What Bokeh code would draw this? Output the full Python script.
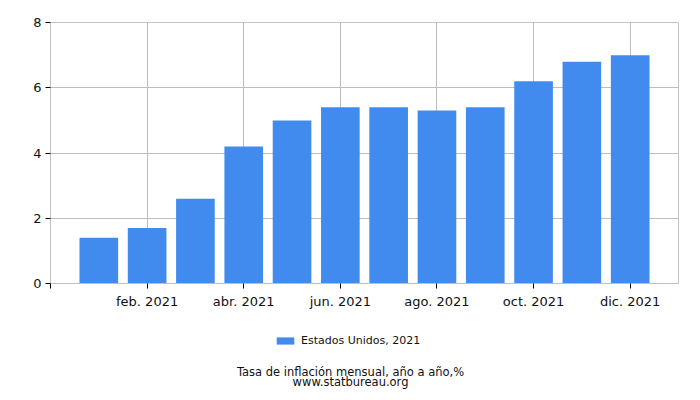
from bokeh.plotting import figure
from bokeh.layouts import column
from bokeh.models import Range1d, FixedTicker, Legend, LegendItem, ColumnDataSource
from bokeh.core.properties import value
from bokeh.embed import file_html
from bokeh.resources import INLINE

months = list(range(1, 13))
values = [1.4, 1.7, 2.6, 4.2, 5.0, 5.4, 5.4, 5.3, 5.4, 6.2, 6.8, 7.0]
tick_positions = [0, 2, 4, 6, 8, 10, 12]
tick_labels = ["", "feb. 2021", "abr. 2021", "jun. 2021", "ago. 2021", "oct. 2021", "dic. 2021"]
y_ticks = [0, 2, 4, 6, 8]
series_name = "Estados Unidos, 2021"
footer_lines = ["Tasa de inflación mensual, año a año,%", "www.statbureau.org"]

FONT = "DejaVu Sans"
BAR = "#428BEE"
W = 700
H1 = 312
H2 = 400 - H1
L, R = 50, 22

p = figure(width=W, height=H1, output_backend="svg", toolbar_location=None,
           x_range=Range1d(0, 13), y_range=Range1d(0, 8),
           min_border_left=L, min_border_right=R, min_border_top=22, min_border_bottom=29)
p.outline_line_color = "#c4c4c4"
p.background_fill_color = "white"
p.border_fill_color = "white"

p.vbar(x=months, top=values, width=0.8, fill_color=BAR, line_color=None)

p.xaxis.ticker = FixedTicker(ticks=tick_positions)
p.xaxis.major_label_overrides = {t: l for t, l in zip(tick_positions, tick_labels)}
p.yaxis.ticker = FixedTicker(ticks=y_ticks)
for ax in (p.xaxis[0], p.yaxis[0]):
    ax.axis_line_color = "#c0c0c0"
    ax.major_tick_line_color = "#000000"
    ax.major_tick_in = 0
    ax.major_tick_out = 5
    ax.minor_tick_line_color = None
    ax.major_label_text_font = FONT
    ax.major_label_text_font_size = "13px"
    ax.major_label_text_color = "#111111"
p.xaxis.major_label_standoff = 5
p.yaxis.major_label_standoff = 4

p.xgrid.ticker = FixedTicker(ticks=tick_positions)
p.ygrid.ticker = FixedTicker(ticks=y_ticks)
p.grid.grid_line_color = "#bdbdbd"
p.grid.grid_line_width = 1

# footer strip: legend + caption (x in page px, y in px from bottom of strip)
p2 = figure(width=W, height=H2, output_backend="svg", toolbar_location=None,
            x_range=Range1d(L, W - R), y_range=Range1d(0, H2),
            min_border_left=L, min_border_right=R, min_border_top=0, min_border_bottom=0,
            outline_line_color=None)
p2.axis.visible = False
p2.grid.visible = False
dummy = p2.vbar(x="x", top="top", width=0.8, fill_color=BAR, line_color=None,
                source=ColumnDataSource(dict(x=[0], top=[0])))
legend = Legend(items=[LegendItem(label=series_name, renderers=[dummy], index=0)],
                location=(274 - L, 53), orientation="horizontal",
                glyph_width=22, glyph_height=9, label_text_font=FONT,
                label_text_font_size="11px", label_text_color="#111111",
                border_line_alpha=0, background_fill_alpha=0,
                padding=0, margin=0, label_standoff=5, label_height=11)
p2.add_layout(legend, "center")

p2.text(x=[W / 2, W / 2], y=[29, 18.5], text=footer_lines,
        text_align="center", text_baseline="middle", text_font=value(FONT),
        text_font_size="11.5px", text_color="#111111")

open("out.html", "w").write(file_html(column(p, p2, spacing=0), INLINE))
